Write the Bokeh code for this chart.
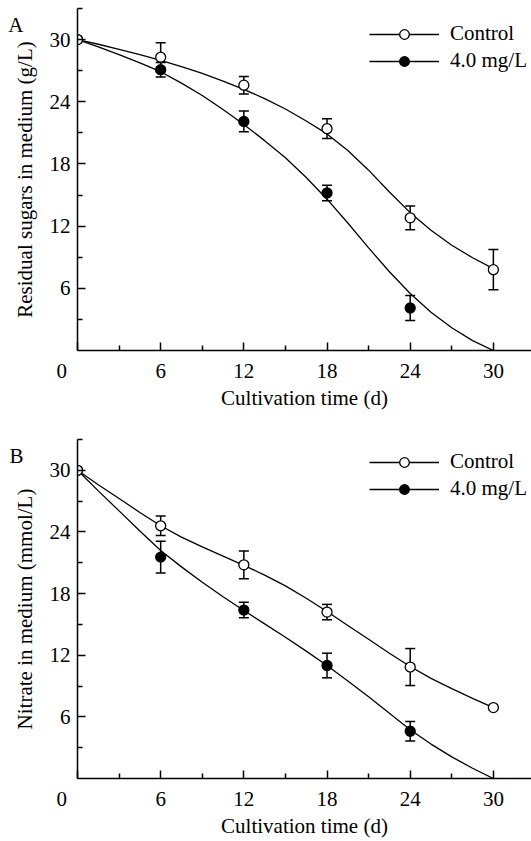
from bokeh.plotting import figure
from bokeh.layouts import column
from bokeh.models import (ColumnDataSource, Range1d, FixedTicker, Whisker, TeeHead,
                          LinearAxis, Legend, LegendItem)
from bokeh.embed import file_html
from bokeh.resources import INLINE

FONT = "Liberation Serif"
NBSP = "\u00a0"

# ---------------- data ----------------
days = [0, 6, 12, 18, 24, 30]
days_trt = [0, 6, 12, 18, 24]
curve_days = [0, 1.5, 3, 4.5, 6, 7.5, 9, 10.5, 12, 13.5, 15, 16.5, 18,
              19.5, 21, 22.5, 24, 25.5, 27, 28.5, 30]

# Panel A: residual sugars (g/L)
sugar_ctrl = [30.0, 28.3, 25.6, 21.4, 12.8, 7.8]
sugar_ctrl_err = [0.0, 1.4, 0.85, 0.95, 1.15, 1.95]
sugar_trt = [30.0, 27.1, 22.1, 15.2, 4.1]
sugar_trt_err = [0.0, 0.7, 1.0, 0.75, 1.2]
sugar_ctrl_fit = [30.0, 29.55, 29.05, 28.55, 28.0, 27.4, 26.75, 26.0, 25.2, 24.3,
                  23.3, 22.15, 20.9, 19.3, 17.4, 15.3, 13.3, 11.6, 10.15, 8.95, 7.9]
sugar_trt_fit = [30.0, 29.3, 28.55, 27.75, 26.9, 25.8, 24.6, 23.25, 21.8, 20.25,
                 18.6, 16.7, 14.6, 12.3, 9.9, 7.6, 5.5, 3.7, 2.2, 0.95, 0.0]

# Panel B: nitrate (mmol/L)
nit_ctrl = [30.0, 24.6, 20.8, 16.2, 10.85, 6.9]
nit_ctrl_err = [0.0, 0.95, 1.35, 0.75, 1.8, 0.0]
nit_trt = [30.0, 21.55, 16.4, 11.0, 4.6]
nit_trt_err = [0.0, 1.55, 0.75, 1.2, 0.95]
nit_ctrl_fit = [30.0, 28.6, 27.25, 25.9, 24.6, 23.5, 22.55, 21.65, 20.75, 19.8,
                18.75, 17.55, 16.25, 14.9, 13.55, 12.2, 10.9, 9.75, 8.75, 7.8, 6.9]
nit_trt_fit = [30.0, 28.0, 26.05, 24.1, 22.2, 20.6, 19.1, 17.7, 16.35, 15.05,
               13.75, 12.4, 11.0, 9.5, 7.95, 6.35, 4.75, 3.35, 2.1, 1.0, 0.0]

x_major = [0, 6, 12, 18, 24, 30]
x_minor = [3, 9, 15, 21, 27]
y_major = [6, 12, 18, 24, 30]
y_minor = [3, 9, 15, 21, 27, 33]
legend_labels = ["Control", "4.0 mg/L"]
LETTER_POS = 31.4


def err_source(x, y, e):
    xs = [a for a, b in zip(x, e) if b > 0]
    ys = [c for c, b in zip(y, e) if b > 0]
    es = [b for b in e if b > 0]
    return ColumnDataSource(dict(x=xs, upper=[c + b for c, b in zip(ys, es)],
                                 lower=[c - b for c, b in zip(ys, es)]))


def style_text(ax):
    ax.major_label_text_font = FONT
    ax.major_label_text_font_size = "21px"
    ax.major_label_text_color = "black"
    ax.axis_label_text_font = FONT
    ax.axis_label_text_font_size = "21px"
    ax.axis_label_text_font_style = "normal"
    ax.axis_label_text_color = "black"


def panel(letter, ytitle, ctrl, ctrl_err, trt, trt_err, ctrl_fit, trt_fit,
          height, btop, bbot, legend_y):
    p = figure(width=531, height=height, x_range=Range1d(0, 32.75), y_range=Range1d(0, 33),
               output_backend="svg", toolbar_location=None,
               min_border_left=77, min_border_right=0, min_border_top=btop,
               min_border_bottom=bbot)
    p.outline_line_color = None
    p.xgrid.grid_line_color = None
    p.ygrid.grid_line_color = None
    p.background_fill_color = "white"

    p.xaxis.ticker = FixedTicker(ticks=x_major, minor_ticks=x_minor)
    p.yaxis.ticker = FixedTicker(ticks=y_major, minor_ticks=y_minor)
    for ax in (p.xaxis, p.yaxis):
        ax.axis_line_width = 1.5
        ax.axis_line_color = "black"
        ax.major_tick_in = 8
        ax.major_tick_out = 0
        ax.minor_tick_in = 5
        ax.minor_tick_out = 0
        ax.major_tick_line_width = 1.5
        ax.minor_tick_line_width = 1.5
        ax.major_tick_line_color = "black"
        ax.minor_tick_line_color = "black"
        style_text(ax)
    p.xaxis.axis_label = "Cultivation time (d)"
    p.xaxis.major_label_standoff = 8
    p.xaxis.axis_label_standoff = 0
    # the origin label sits to the left of the origin
    p.xaxis.major_label_overrides = {0: "0" + NBSP * 6}
    p.yaxis.axis_label = ytitle
    p.yaxis.major_label_standoff = 7
    p.yaxis.axis_label_standoff = 10

    # panel letter as an outer, line-less axis
    lax = LinearAxis(ticker=FixedTicker(ticks=[LETTER_POS], minor_ticks=[]),
                     major_label_overrides={LETTER_POS: letter},
                     axis_line_color=None, major_tick_line_color=None,
                     minor_tick_line_color=None, major_tick_out=0, major_tick_in=0,
                     minor_tick_out=0, minor_tick_in=0, major_label_standoff=-14)
    style_text(lax)
    p.add_layout(lax, "left")

    # fitted curves
    lc = p.line(curve_days, ctrl_fit, line_color="black", line_width=1.3)
    lt = p.line(curve_days, trt_fit, line_color="black", line_width=1.3)

    # error bars
    for src in (err_source(days, ctrl, ctrl_err), err_source(days_trt, trt, trt_err)):
        w = Whisker(source=src, base="x", upper="upper", lower="lower",
                    dimension="height", line_width=1.5, line_color="black",
                    upper_head=TeeHead(size=10, line_width=1.5, line_color="black"),
                    lower_head=TeeHead(size=10, line_width=1.5, line_color="black"),
                    level="underlay")
        p.add_layout(w)

    st = p.scatter(days_trt, trt, marker="circle", size=10, fill_color="black",
                   line_color="black", line_width=1.3)
    sc = p.scatter(days, ctrl, marker="circle", size=10, fill_color="white",
                   line_color="black", line_width=1.3)

    leg = Legend(items=[LegendItem(label=legend_labels[0], renderers=[lc, sc]),
                        LegendItem(label=legend_labels[1], renderers=[lt, st])],
                 location=(292, legend_y), orientation="vertical",
                 glyph_width=70, glyph_height=24, label_height=24, spacing=2,
                 label_standoff=11, padding=0, margin=0,
                 border_line_color=None, background_fill_alpha=0,
                 label_text_font=FONT, label_text_font_size="21px",
                 label_text_color="black")
    p.add_layout(leg)
    return p


pa = panel("A", "Residual sugars in medium (g/L)", sugar_ctrl, sugar_ctrl_err,
           sugar_trt, sugar_trt_err, sugar_ctrl_fit, sugar_trt_fit,
           height=431, btop=8, bbot=81, legend_y=277)
pb = panel("B", "Nitrate in medium (mmol/L)", nit_ctrl, nit_ctrl_err,
           nit_trt, nit_trt_err, nit_ctrl_fit, nit_trt_fit,
           height=410, btop=8, bbot=63, legend_y=277)

layout = column(pa, pb, spacing=0)
open("out.html", "w").write(file_html(layout, INLINE))
